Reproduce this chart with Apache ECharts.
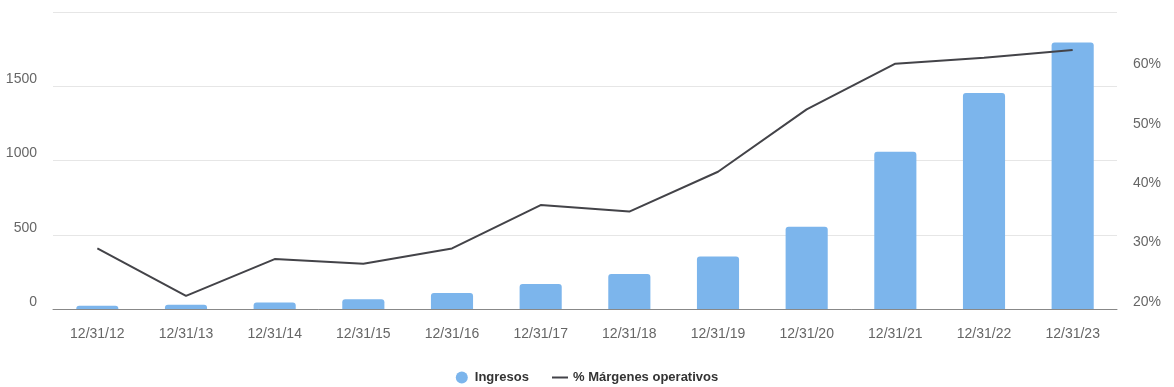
<!DOCTYPE html>
<html>
<head>
<meta charset="utf-8">
<script src="https://cdn.jsdelivr.net/npm/echarts@6/dist/echarts.min.js"></script>
<style>
html,body{margin:0;padding:0;background:#fff;}
#chart{width:1174px;height:387px;}
</style>
</head>
<body>
<div id="chart"></div>
<script>
const categories = ['12/31/12','12/31/13','12/31/14','12/31/15','12/31/16','12/31/17','12/31/18','12/31/19','12/31/20','12/31/21','12/31/22','12/31/23'];
const ingresos = [22, 29, 43, 65, 108, 169, 236, 353, 554, 1059, 1455, 1795];
const margenes = [30.2, 22.2, 28.4, 27.6, 30.2, 37.5, 36.4, 43.1, 53.6, 61.3, 62.3, 63.6];
const leftTicks = {min: 0, max: 2000, interval: 500};
const rightTicks = {min: 20, max: 70, interval: 10};

const chart = echarts.init(document.getElementById('chart'), null, {renderer: 'canvas'});
const font = 'Arial, "Liberation Sans", sans-serif';
chart.setOption({
  animation: false,
  textStyle: {fontFamily: font},
  grid: {left: 53, right: 57, top: 12, bottom: 78, containLabel: false},
  legend: {
    top: 366,
    left: 'center',
    itemWidth: 16,
    itemHeight: 12,
    itemGap: 22,
    textStyle: {fontFamily: font, fontSize: 13, fontWeight: 'bold', color: '#333333'},
    data: [
      {name: 'Ingresos', icon: 'circle'},
      {name: '% Márgenes operativos', itemStyle: {opacity: 0}, lineStyle: {color: '#434348', width: 2}}
    ]
  },
  xAxis: {
    type: 'category',
    data: categories,
    axisLine: {lineStyle: {color: '#888888', width: 1}},
    axisTick: {alignWithLabel: true, length: 10, lineStyle: {color: '#888888'}},
    axisLabel: {color: '#666666', fontSize: 14, margin: 18, fontFamily: font}
  },
  yAxis: [
    {
      type: 'value',
      min: leftTicks.min, max: leftTicks.max, interval: leftTicks.interval,
      axisLine: {show: false},
      axisTick: {show: false},
      splitLine: {lineStyle: {color: '#e6e6e6'}},
      axisLabel: {color: '#666666', fontSize: 14, margin: 16, verticalAlign: 'bottom', showMaxLabel: false, formatter: function (v) { return String(v); }, fontFamily: font}
    },
    {
      type: 'value',
      position: 'right',
      min: rightTicks.min, max: rightTicks.max, interval: rightTicks.interval,
      axisLine: {show: false},
      axisTick: {show: false},
      splitLine: {show: false},
      axisLabel: {color: '#666666', fontSize: 14, margin: 16, verticalAlign: 'bottom', showMaxLabel: false, formatter: '{value}%', fontFamily: font}
    }
  ],
  series: [
    {
      name: 'Ingresos',
      type: 'bar',
      data: ingresos,
      barWidth: '47.5%',
      itemStyle: {color: '#7cb5ec', borderRadius: [3, 3, 0, 0]}
    },
    {
      name: '% Márgenes operativos',
      type: 'line',
      yAxisIndex: 1,
      data: margenes,
      symbol: 'none',
      lineStyle: {color: '#434348', width: 2},
      itemStyle: {color: '#434348'}
    }
  ]
});
</script>
</body>
</html>
